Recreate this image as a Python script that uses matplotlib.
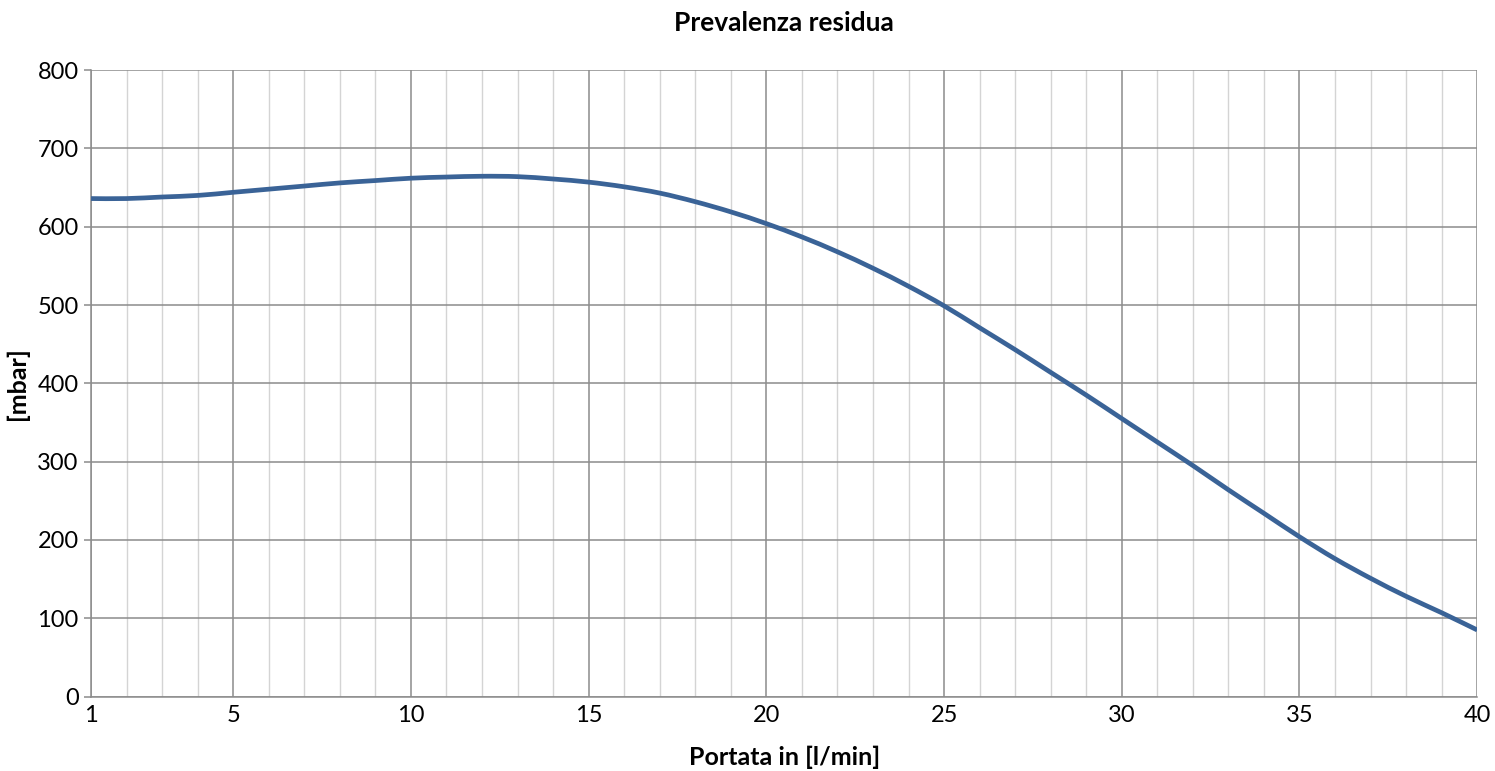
import matplotlib
matplotlib.use("Agg")
import matplotlib.pyplot as plt
import numpy as np
from matplotlib.path import Path
from matplotlib.patches import PathPatch
from matplotlib.ticker import MultipleLocator, FixedLocator

# ------------------------------------------------------------
# data
# ------------------------------------------------------------
portata = list(range(1, 41))

prevalenza = [
    636, 636, 638, 640, 644, 648, 652, 656, 659, 662,
    663.5, 664.5, 664, 661, 657, 651, 643, 632, 619, 604,
    587, 568, 547, 524, 499, 471, 443, 414, 385, 355,
    325, 295, 264, 234, 204, 176, 151, 128, 107, 85,
]

x_ticks = [1, 5, 10, 15, 20, 25, 30, 35, 40]


# ------------------------------------------------------------
# smoothed line (spreadsheet style, Catmull-Rom -> Bezier)
# ------------------------------------------------------------
def smooth_path(xs, ys):
    pts = np.column_stack([xs, ys]).astype(float)
    padded = np.vstack([pts[0], pts, pts[-1]])
    verts = [pts[0]]
    codes = [Path.MOVETO]
    for i in range(1, len(padded) - 2):
        p0, p1, p2, p3 = padded[i - 1], padded[i], padded[i + 1], padded[i + 2]
        verts += [p1 + (p2 - p0) / 6, p2 - (p3 - p1) / 6, p2]
        codes += [Path.CURVE4] * 3
    return Path(verts, codes)


plt.rcParams["font.family"] = ["Lato", "DejaVu Sans"]

fig = plt.figure(figsize=(14.95, 7.71), dpi=100)
ax = fig.add_axes([0.0609, 0.0966, 0.9272, 0.8124])

ax.add_patch(PathPatch(smooth_path(portata, prevalenza), facecolor="none",
                       edgecolor="#3a6397", linewidth=3.4,
                       capstyle="butt", zorder=3))

ax.set_xlim(1, 40)
ax.set_ylim(0, 800)

ax.xaxis.set_major_locator(FixedLocator(x_ticks))
ax.xaxis.set_minor_locator(MultipleLocator(1))
ax.yaxis.set_major_locator(MultipleLocator(100))

ax.grid(which="minor", axis="x", color="#d4d4d4", linewidth=1.0, zorder=0)
ax.grid(which="major", axis="x", color="#8c8c8c", linewidth=1.1, zorder=1)
ax.grid(which="major", axis="y", color="#8c8c8c", linewidth=1.1, zorder=1)

for side in ["top", "right"]:
    ax.spines[side].set_visible(False)
for side in ["left", "bottom"]:
    ax.spines[side].set_color("#8c8c8c")
    ax.spines[side].set_linewidth(1.1)

ax.tick_params(axis="x", which="both", length=0, pad=6, labelsize=17)
ax.tick_params(axis="y", length=5, width=1.1, color="#8c8c8c",
               pad=4, labelsize=17)

ax.set_title("Prevalenza residua", fontsize=19, fontweight="bold", pad=28)
ax.set_xlabel("Portata in [l/min]", fontsize=18, fontweight="bold",
              labelpad=14)
ax.set_ylabel("[mbar]", fontsize=18, fontweight="bold", labelpad=6)

fig.savefig("out.png", dpi=100)
